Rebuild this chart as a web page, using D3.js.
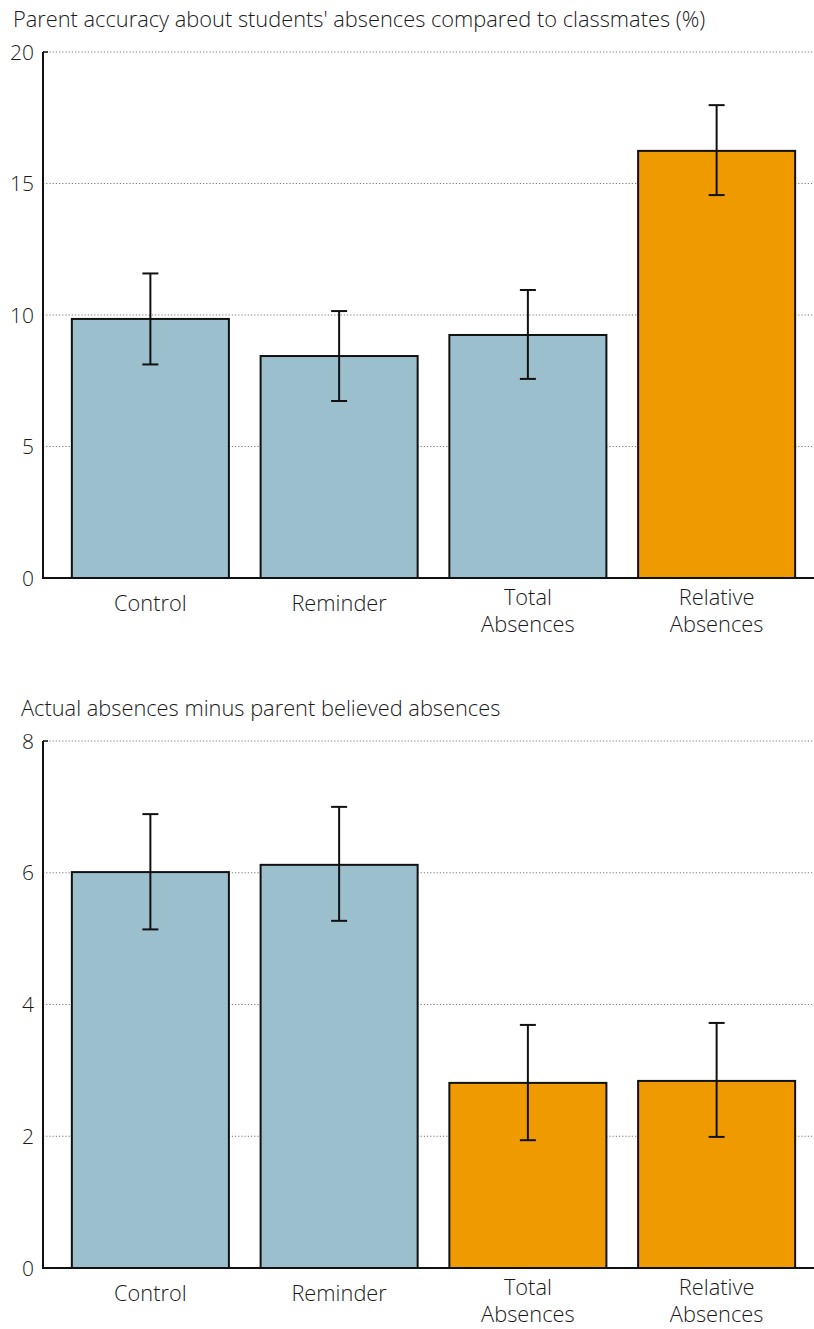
<!DOCTYPE html>
<html>
<head>
<meta charset="utf-8">
<script src="https://cdn.jsdelivr.net/npm/d3@7"></script>
<style>
  body { margin: 0; background: #fff; }
  svg text { font-family: "Open Sans", "Liberation Sans", sans-serif; font-weight: 300; fill: #1a1a1a; }
</style>
</head>
<body>
<svg width="814" height="1329"></svg>
<script>
// data
const categories = ["Control", "Reminder", "Total Absences", "Relative Absences"];

const accuracy = [9.85, 8.44, 9.24, 16.24];
const accuracyLow = [8.12, 6.73, 7.57, 14.56];
const accuracyHigh = [11.58, 10.15, 10.95, 17.98];
const accuracyTicks = [0, 5, 10, 15, 20];
const accuracyHighlight = [false, false, false, true];

const gap = [6.01, 6.12, 2.81, 2.84];
const gapLow = [5.14, 5.27, 1.94, 1.99];
const gapHigh = [6.89, 7.0, 3.69, 3.72];
const gapTicks = [0, 2, 4, 6, 8];
const gapHighlight = [false, false, true, true];

const blue = "#9bbfcd", orange = "#ef9b00";
const svg = d3.select("svg");

function drawPanel(opts) {
    const g = svg.append("g");
    const left = 43, right = 814;

    let x = d3.scaleBand()
        .domain(categories)
        .range([56, 811])
        .paddingInner(0.168)
        .paddingOuter(0.084);
    let y = d3.scaleLinear()
        .domain([0, d3.max(opts.ticks)])
        .range([opts.bottom, opts.top]);

    // title
    g.append("text")
        .attr("x", opts.titleX)
        .attr("y", opts.titleY)
        .attr("font-size", "21.8px")
        .text(opts.title);

    // dotted grid lines
    g.selectAll(".grid")
        .data(opts.ticks.filter(d => d > 0))
        .enter()
        .append("line")
        .attr("x1", left).attr("x2", right)
        .attr("y1", d => y(d)).attr("y2", d => y(d))
        .attr("stroke", "#777")
        .attr("stroke-width", 1)
        .attr("stroke-dasharray", "1.2,2");

    // small solid tick at the top
    g.append("line")
        .attr("x1", left).attr("x2", left + 5)
        .attr("y1", y(d3.max(opts.ticks))).attr("y2", y(d3.max(opts.ticks)))
        .attr("stroke", "#111").attr("stroke-width", 1.5);

    // tick labels
    g.selectAll(".tick-label")
        .data(opts.ticks)
        .enter()
        .append("text")
        .attr("x", 34)
        .attr("y", d => y(d))
        .attr("dy", "0.36em")
        .attr("text-anchor", "end")
        .attr("font-size", "21px")
        .text(d => d);

    // bars
    g.selectAll(".bar")
        .data(opts.values)
        .enter()
        .append("rect")
        .attr("x", (d, i) => x(categories[i]))
        .attr("width", x.bandwidth())
        .attr("y", d => y(d))
        .attr("height", d => y(0) - y(d))
        .attr("fill", (d, i) => opts.highlight[i] ? orange : blue)
        .attr("stroke", "#111")
        .attr("stroke-width", 2);

    // error bars
    const cx = i => x(categories[i]) + x.bandwidth() / 2;
    opts.values.forEach(function(v, i) {
        g.append("line")
            .attr("x1", cx(i)).attr("x2", cx(i))
            .attr("y1", y(opts.high[i])).attr("y2", y(opts.low[i]))
            .attr("stroke", "#111").attr("stroke-width", 2);
        [opts.high[i], opts.low[i]].forEach(function(e) {
            g.append("line")
                .attr("x1", cx(i) - 8).attr("x2", cx(i) + 8)
                .attr("y1", y(e)).attr("y2", y(e))
                .attr("stroke", "#111").attr("stroke-width", 2);
        });
    });

    // axes lines
    g.append("line")
        .attr("x1", left).attr("x2", left)
        .attr("y1", y(d3.max(opts.ticks))).attr("y2", y(0) + 1)
        .attr("stroke", "#111").attr("stroke-width", 2);
    g.append("line")
        .attr("x1", left).attr("x2", right)
        .attr("y1", y(0)).attr("y2", y(0))
        .attr("stroke", "#111").attr("stroke-width", 2);

    // category labels, split onto two lines
    categories.forEach(function(c, i) {
        const words = c.split(" ");
        const t = g.append("text")
            .attr("text-anchor", "middle")
            .attr("font-size", "21.8px");
        if (words.length === 1) {
            t.append("tspan").attr("x", cx(i)).attr("y", y(0) + 33).text(c);
        } else {
            t.append("tspan").attr("x", cx(i)).attr("y", y(0) + 27).text(words[0]);
            t.append("tspan").attr("x", cx(i)).attr("y", y(0) + 54).text(words[1]);
        }
    });
}

drawPanel({
    title: "Parent accuracy about students' absences compared to classmates (%)",
    titleX: 13, titleY: 27,
    top: 52, bottom: 578,
    ticks: accuracyTicks,
    values: accuracy, low: accuracyLow, high: accuracyHigh,
    highlight: accuracyHighlight
});

drawPanel({
    title: "Actual absences minus parent believed absences",
    titleX: 21, titleY: 716,
    top: 741, bottom: 1268,
    ticks: gapTicks,
    values: gap, low: gapLow, high: gapHigh,
    highlight: gapHighlight
});
</script>
</body>
</html>
